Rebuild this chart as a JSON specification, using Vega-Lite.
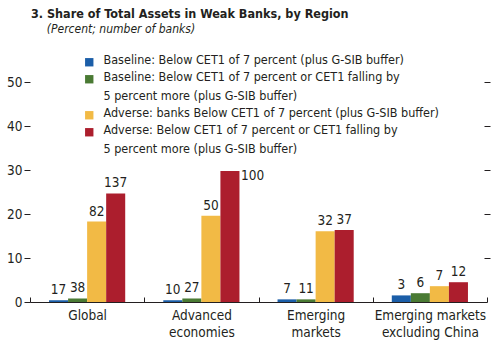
{
  "$schema": "https://vega.github.io/schema/vega-lite/v6.json",
  "width": 457,
  "height": 255,
  "autosize": {"type": "none"},
  "padding": {"left": 30, "top": 47, "right": 11, "bottom": 50},
  "background": "white",
  "config": {
    "view": {"stroke": null},
    "font": "DejaVu Sans Condensed, sans-serif",
    "text": {"font": "DejaVu Sans Condensed, sans-serif"}
  },
  "title": {
    "text": "3. Share of Total Assets in Weak Banks, by Region",
    "subtitle": "\u2800\u2800(Percent; number of banks)",
    "anchor": "start",
    "frame": "group",
    "offset": 12,
    "dx": 1,
    "font": "DejaVu Sans Condensed, sans-serif",
    "fontSize": 12.5,
    "fontWeight": "bold",
    "color": "#231f20",
    "subtitleFont": "DejaVu Sans Condensed, sans-serif",
    "subtitleFontSize": 12,
    "subtitleFontStyle": "italic",
    "subtitleColor": "#231f20",
    "subtitlePadding": 4
  },
  "datasets": {
    "bars": [
      {"region": "Global", "series": "Baseline: Below CET1 of 7 percent (plus G-SIB buffer)", "order": 1, "value": 0.4, "banks": 17},
      {"region": "Global", "series": "Baseline: Below CET1 of 7 percent or CET1 falling by|5 percent more (plus G-SIB buffer)", "order": 2, "value": 0.8, "banks": 38},
      {"region": "Global", "series": "Adverse: banks Below CET1 of 7 percent (plus G-SIB buffer)", "order": 3, "value": 18.3, "banks": 82},
      {"region": "Global", "series": "Adverse: Below CET1 of 7 percent or CET1 falling by|5 percent more (plus G-SIB buffer)", "order": 4, "value": 24.7, "banks": 137},
      {"region": "Advanced economies", "series": "Baseline: Below CET1 of 7 percent (plus G-SIB buffer)", "order": 1, "value": 0.4, "banks": 10},
      {"region": "Advanced economies", "series": "Baseline: Below CET1 of 7 percent or CET1 falling by|5 percent more (plus G-SIB buffer)", "order": 2, "value": 0.8, "banks": 27},
      {"region": "Advanced economies", "series": "Adverse: banks Below CET1 of 7 percent (plus G-SIB buffer)", "order": 3, "value": 19.6, "banks": 50},
      {"region": "Advanced economies", "series": "Adverse: Below CET1 of 7 percent or CET1 falling by|5 percent more (plus G-SIB buffer)", "order": 4, "value": 29.8, "banks": 100},
      {"region": "Emerging markets", "series": "Baseline: Below CET1 of 7 percent (plus G-SIB buffer)", "order": 1, "value": 0.6, "banks": 7},
      {"region": "Emerging markets", "series": "Baseline: Below CET1 of 7 percent or CET1 falling by|5 percent more (plus G-SIB buffer)", "order": 2, "value": 0.6, "banks": 11},
      {"region": "Emerging markets", "series": "Adverse: banks Below CET1 of 7 percent (plus G-SIB buffer)", "order": 3, "value": 16.1, "banks": 32},
      {"region": "Emerging markets", "series": "Adverse: Below CET1 of 7 percent or CET1 falling by|5 percent more (plus G-SIB buffer)", "order": 4, "value": 16.4, "banks": 37},
      {"region": "Emerging markets excluding China", "series": "Baseline: Below CET1 of 7 percent (plus G-SIB buffer)", "order": 1, "value": 1.5, "banks": 3},
      {"region": "Emerging markets excluding China", "series": "Baseline: Below CET1 of 7 percent or CET1 falling by|5 percent more (plus G-SIB buffer)", "order": 2, "value": 2.0, "banks": 6},
      {"region": "Emerging markets excluding China", "series": "Adverse: banks Below CET1 of 7 percent (plus G-SIB buffer)", "order": 3, "value": 3.6, "banks": 7},
      {"region": "Emerging markets excluding China", "series": "Adverse: Below CET1 of 7 percent or CET1 falling by|5 percent more (plus G-SIB buffer)", "order": 4, "value": 4.5, "banks": 12}
    ]
  },
  "data": {"name": "bars"},
  "encoding": {
    "x": {
      "field": "region",
      "type": "nominal",
      "sort": ["Global", "Advanced economies", "Emerging markets", "Emerging markets excluding China"],
      "scale": {"paddingInner": 0, "paddingOuter": 0},
      "axis": {
        "title": null,
        "orient": "bottom",
        "labelAngle": 0,
        "tickBand": "extent",
        "tickSize": -5,
        "tickColor": "#231f20",
        "domainColor": "#231f20",
        "labelPadding": 11,
        "labelFontSize": 13.5,
        "labelColor": "#231f20",
        "labelLineHeight": 17,
        "labelExpr": "datum.label == 'Advanced economies' ? ['Advanced', 'economies'] : datum.label == 'Emerging markets' ? ['Emerging', 'markets'] : datum.label == 'Emerging markets excluding China' ? ['Emerging markets', 'excluding China'] : datum.label"
      }
    },
    "xOffset": {
      "field": "order",
      "type": "ordinal",
      "scale": {"paddingInner": 0, "paddingOuter": 1.09}
    },
    "y": {
      "field": "value",
      "type": "quantitative",
      "scale": {"domain": [0, 58], "nice": false},
      "axis": null
    }
  },
  "layer": [
    {
      "mark": {"type": "bar"},
      "encoding": {
        "color": {
          "field": "series",
          "type": "nominal",
          "sort": [
            "Baseline: Below CET1 of 7 percent (plus G-SIB buffer)",
            "Baseline: Below CET1 of 7 percent or CET1 falling by|5 percent more (plus G-SIB buffer)",
            "Adverse: banks Below CET1 of 7 percent (plus G-SIB buffer)",
            "Adverse: Below CET1 of 7 percent or CET1 falling by|5 percent more (plus G-SIB buffer)"
          ],
          "scale": {
            "domain": [
              "Baseline: Below CET1 of 7 percent (plus G-SIB buffer)",
              "Baseline: Below CET1 of 7 percent or CET1 falling by|5 percent more (plus G-SIB buffer)",
              "Adverse: banks Below CET1 of 7 percent (plus G-SIB buffer)",
              "Adverse: Below CET1 of 7 percent or CET1 falling by|5 percent more (plus G-SIB buffer)"
            ],
            "range": ["#1b5ea8", "#4a7a33", "#f2ba45", "#ac1e2d"]
          },
          "legend": {
            "title": null,
            "orient": "none",
            "legendX": 53,
            "legendY": 9,
            "symbolType": "square",
            "symbolSize": 70,
            "symbolStrokeWidth": 0,
            "labelFontSize": 12.5,
            "labelColor": "#231f20",
            "labelBaseline": "top",
            "labelLimit": 400,
            "labelOffset": 8,
            "rowPadding": 4,
            "labelExpr": "split(datum.label, '|')",
            "encode": {"labels": {"update": {"dy": {"value": -8}, "lineHeight": {"value": 19}}}}
          }
        }
      }
    },
    {
      "transform": [{"filter": "datum.banks != 100"}],
      "mark": {"type": "text", "baseline": "bottom", "dy": -3, "fontSize": 13.5, "color": "#231f20"},
      "encoding": {"text": {"field": "banks", "type": "quantitative"}}
    },
    {
      "transform": [{"filter": "datum.banks == 100"}],
      "mark": {"type": "text", "baseline": "top", "align": "left", "dx": 11, "dy": -2, "fontSize": 13.5, "color": "#231f20"},
      "encoding": {"text": {"field": "banks", "type": "quantitative"}}
    },
    {
      "mark": {"type": "rule", "opacity": 0},
      "encoding": {
        "y": {
          "datum": 0,
          "type": "quantitative",
          "axis": {
            "orient": "left",
            "title": null,
            "values": [0, 10, 20, 30, 40, 50],
            "domain": false,
            "grid": false,
            "tickSize": 6,
            "tickColor": "#231f20",
            "labelPadding": 2,
            "labelFontSize": 13.5,
            "labelColor": "#231f20"
          }
        },
        "x": {"value": 0},
        "x2": {"value": 0}
      }
    },
    {
      "mark": {"type": "rule", "opacity": 0},
      "encoding": {
        "y": {
          "datum": 0,
          "type": "quantitative",
          "axis": {
            "orient": "right",
            "title": null,
            "values": [10, 20, 30, 40, 50],
            "domain": false,
            "grid": false,
            "labels": false,
            "tickSize": 6,
            "offset": -3,
            "tickColor": "#231f20"
          }
        },
        "x": {"value": 0},
        "x2": {"value": 0}
      }
    }
  ],
  "resolve": {"axis": {"y": "independent"}}
}
